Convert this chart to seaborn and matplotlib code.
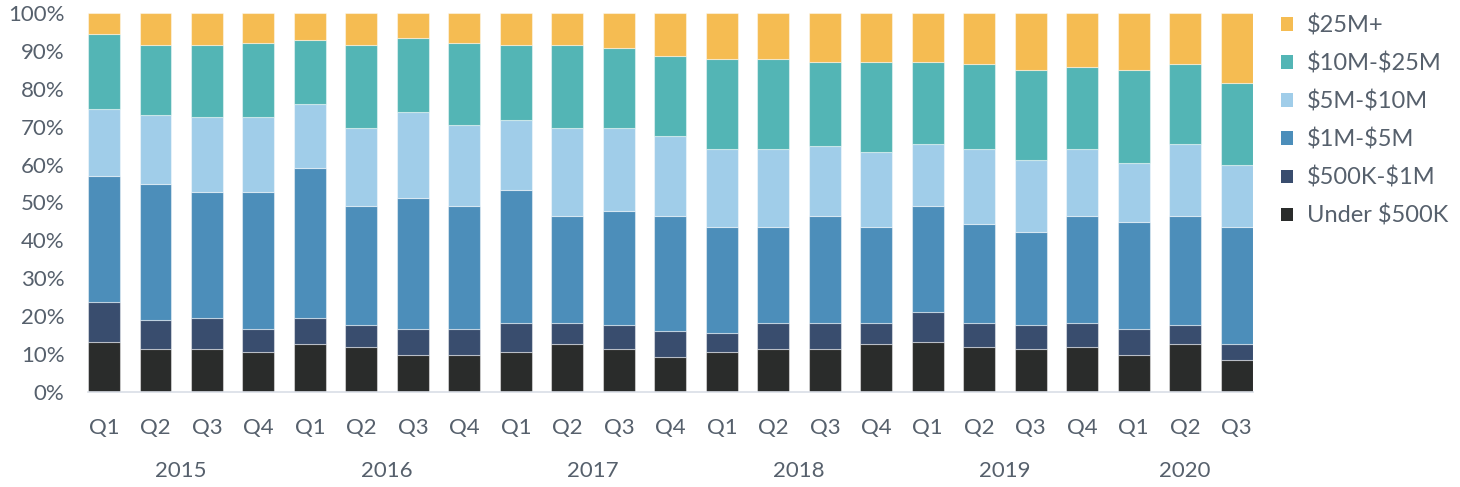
import pandas as pd
import numpy as np
import seaborn as sns
import matplotlib.pyplot as plt

# Data: share of each size band per quarter (percent)
quarters = ['Q1', 'Q2', 'Q3', 'Q4'] * 5 + ['Q1', 'Q2', 'Q3']
years = ['2015', '2016', '2017', '2018', '2019', '2020']

under_500k = [13.2, 11.2, 11.2, 10.4, 12.5, 11.9, 9.8, 9.8, 10.4, 12.5, 11.2, 9.1,
              10.4, 11.2, 11.2, 12.5, 13.2, 11.9, 11.2, 11.9, 9.8, 12.5, 8.3]
k500_1m = [10.6, 7.7, 8.4, 6.3, 7.1, 5.6, 6.9, 6.9, 7.8, 5.7, 6.3, 7.0,
           5.0, 7.0, 7.0, 5.7, 7.8, 6.3, 6.3, 6.3, 6.9, 5.0, 4.2]
m1_5 = [33.2, 36.0, 33.1, 36.0, 39.4, 31.7, 34.5, 32.5, 35.1, 28.2, 30.3, 30.3,
        28.2, 25.4, 28.2, 25.4, 28.2, 26.0, 24.6, 28.2, 28.2, 28.9, 31.1]
m5_10 = [17.7, 18.3, 19.9, 19.9, 17.0, 20.5, 22.7, 21.3, 18.5, 23.3, 21.9, 21.2,
         20.5, 20.5, 18.4, 19.7, 16.3, 19.9, 19.1, 17.7, 15.6, 19.1, 16.2]
m10_25 = [19.7, 18.3, 18.9, 19.6, 16.9, 21.8, 19.7, 21.7, 19.7, 21.8, 21.0, 21.0,
          23.8, 23.8, 22.4, 23.9, 21.7, 22.4, 23.9, 21.7, 24.6, 21.0, 21.9]
m25_plus = [5.6, 8.5, 8.5, 7.8, 7.1, 8.5, 6.4, 7.8, 8.5, 8.5, 9.3, 11.4,
            12.1, 12.1, 12.8, 12.8, 12.8, 13.5, 14.9, 14.2, 14.9, 13.5, 18.3]

bands = ['$25M+', '$10M-$25M', '$5M-$10M', '$1M-$5M', '$500K-$1M', 'Under $500K']
colors = ['#F5BC52', '#53B5B5', '#A0CDE9', '#4C8EBA', '#394D6E', '#2A2C2B']

series = [m25_plus, m10_25, m5_10, m1_5, k500_1m, under_500k]
n = len(quarters)
df = pd.concat([pd.DataFrame({'idx': np.arange(n), 'band': b, 'value': v})
                for b, v in zip(bands, series)], ignore_index=True)

sns.set_style('white')
plt.rcParams['font.family'] = ['Lato', 'DejaVu Sans']
plt.rcParams['text.parse_math'] = False  # keep the dollar signs literal
text_color = '#56606c'

fig = plt.figure(figsize=(14.6, 4.87), dpi=100)
ax = fig.add_axes([0.0603, 0.1957, 0.858 - 0.0603, 0.9727 - 0.1957])

sns.histplot(data=df, x='idx', weights='value', hue='band', hue_order=bands,
             palette=dict(zip(bands, colors)), multiple='stack', discrete=True,
             shrink=0.62, alpha=1, edgecolor=(1, 1, 1, 0.45), linewidth=0.8, ax=ax)

w = 0.62
ax.set_xlim(-w / 2, n - 1 + w / 2)
ax.set_ylim(0, 100)
ax.set_yticks(range(0, 101, 10))
ax.set_yticklabels([f'{t}%' for t in range(0, 101, 10)])
ax.set_xticks(range(n))
ax.set_xticklabels(quarters)
ax.tick_params(axis='both', length=0, labelsize=16, colors=text_color)
ax.tick_params(axis='x', pad=19)
ax.tick_params(axis='y', pad=17)
ax.set_xlabel('')
ax.set_ylabel('')
for s in ['top', 'right', 'left']:
    ax.spines[s].set_visible(False)
ax.spines['bottom'].set_color('#d9dee6')
ax.spines['bottom'].set_linewidth(1.2)

# Year labels centred under each group of quarters
year_centers = [1.5, 5.5, 9.5, 13.5, 17.5, 21]
for yc, yr in zip(year_centers, years):
    ax.text(yc, -0.21, yr, transform=ax.get_xaxis_transform(), ha='center',
            va='center', fontsize=16, color=text_color)

sns.move_legend(ax, loc='upper left', bbox_to_anchor=(0.863, 1.014),
                bbox_transform=fig.transFigure, frameon=False, title=None,
                fontsize=17, handlelength=0.5, handleheight=0.5,
                handletextpad=0.6, labelspacing=0.68)
for t in ax.get_legend().get_texts():
    t.set_color(text_color)
for h in ax.get_legend().legend_handles:
    h.set_edgecolor('none')

fig.savefig('out.png', dpi=100)
